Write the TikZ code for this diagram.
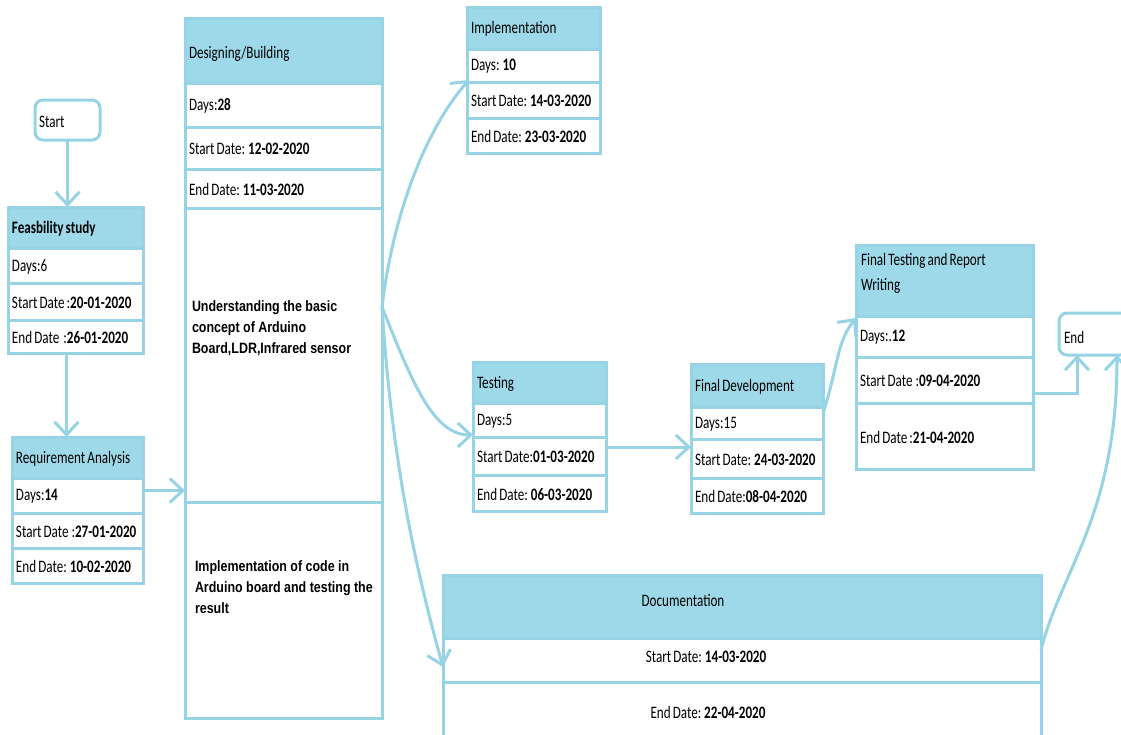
\documentclass[tikz,border=0pt]{standalone}
\usepackage{fontspec}
\setmainfont{Carlito}[FakeStretch=0.75,WordSpace=0.7]
\newfontfamily\arialf{Liberation Sans}[FakeStretch=0.83]
\usetikzlibrary{arrows.meta,calc}
\definecolor{lb}{RGB}{150,211,229}
\definecolor{hb}{RGB}{158,217,233}
\tikzset{
  cel/.style={draw=lb, line width=3pt, fill=white, anchor=north west,
    inner sep=0pt, outer sep=0pt},
  hdr/.style={fill=hb},
  term/.style={draw=lb, line width=3pt, fill=white, anchor=north west, rounded corners=8pt,
    inner sep=0pt, outer sep=0pt},
  txt/.style={inner sep=0pt, outer sep=0pt, align=left, font=\fontsize{17.5}{21}\selectfont},
  body/.style={inner sep=0pt, outer sep=0pt, anchor=north west, align=left,
    font=\arialf\bfseries\fontsize{15}{21}\selectfont},
  conn/.style={draw=lb, line width=3pt, -{Straight Barb[length=13pt,width=24pt,line width=3pt]}},
}
% name, x, y, w, h, style, text
\newcommand\cel[7]{\node[cel,#6,minimum width=#4pt,minimum height=#5pt] (#1) at (#2,#3) {};
  \node[txt,anchor=west] (#1t) at ($(#1.west)+(4,1)$) {#7};}
\begin{document}
\begin{tikzpicture}[x=1pt,y=-1pt]
\useasboundingbox[fill=white] (0,0) rectangle (1121,734);

% Start / End
\node[term, minimum width=65pt, minimum height=40pt] (start) at (35,100) {};
\node[txt, anchor=west] (startt) at ($(start.west)+(4,2)$) {Start};
\node[term, minimum width=69pt, minimum height=42pt] (end) at (1059,313) {};
\node[txt, anchor=west] (endt) at ($(end.west)+(5,3)$) {End};

% Feasibility
\cel{feasH}{8}{207}{135}{41}{hdr}{\textbf{Feasbility study}}
\cel{feasD}{8}{248}{135}{35}{}{Days:6}
\cel{feasS}{8}{283}{135}{37}{}{Start Date :\textbf{20-01-2020}}
\cel{feasE}{8}{320}{135}{33}{}{End Date \ :\textbf{26-01-2020}}

% Requirement
\cel{reqH}{12}{437}{131}{41}{hdr}{Requirement Analysis}
\cel{reqD}{12}{478}{131}{35}{}{Days:\textbf{14}}
\cel{reqS}{12}{513}{131}{35}{}{Start Date\,:\textbf{27-01-2020}}
\cel{reqE}{12}{548}{131}{35}{}{End Date: \textbf{10-02-2020}}

% Designing
\node[cel,hdr,minimum width=197pt,minimum height=65pt] (desH) at (185,18) {};
\node[txt,anchor=west] (desHt) at ($(desH.west)+(4,3)$) {Designing/Building};
\cel{desD}{185}{83}{197}{44}{}{Days:\textbf{28}}
\cel{desS}{185}{127}{197}{42}{}{Start Date: \textbf{12-02-2020}}
\cel{desE}{185}{169}{197}{39}{}{End Date: \textbf{11-03-2020}}
\node[cel, minimum width=197pt, minimum height=294pt] (desU) at (185,208) {};
\node[cel, minimum width=197pt, minimum height=216pt] (desI) at (185,502) {};
\node[body] (desUt) at ($(desU.north west)+(7,93)$) {Understanding the basic\\concept of Arduino\\Board,LDR,Infrared sensor};
\node[body] (desIt) at ($(desI.north west)+(10,59)$) {Implementation of code in\\Arduino board and testing the\\result};

% Implementation
\cel{impH}{467}{7}{133}{42}{hdr}{Implementation}
\cel{impD}{467}{49}{133}{33}{}{Days: \textbf{10}}
\cel{impS}{467}{82}{133}{36}{}{Start Date:\,\textbf{14-03-2020}}
\cel{impE}{467}{118}{133}{35}{}{End Date: \textbf{23-03-2020}}

% Testing
\cel{tesH}{473}{362}{133}{41}{hdr}{Testing}
\cel{tesD}{473}{403}{133}{34}{}{Days:5}
\cel{tesS}{473}{437}{133}{38}{}{Start Date:\textbf{01-03-2020}}
\cel{tesE}{473}{475}{133}{36}{}{End Date: \textbf{06-03-2020}}

% Final Development
\cel{fdH}{691}{364}{132}{43}{hdr}{Final Development}
\cel{fdD}{691}{407}{132}{32}{}{Days:15}
\cel{fdS}{691}{439}{132}{39}{}{Start Date: \textbf{24-03-2020}}
\cel{fdE}{691}{478}{132}{35}{}{End Date:\textbf{08-04-2020}}

% Final Testing
\node[cel,hdr,minimum width=177pt,minimum height=71pt] (ftH) at (856,245) {};
\node[txt,anchor=north west,font=\fontsize{17.5}{25}\selectfont] (ftHt) at ($(ftH.north west)+(5,8)$) {Final Testing and Report\\Writing};
\cel{ftD}{856}{316}{177}{41}{}{Days:.\textbf{12}}
\cel{ftS}{856}{357}{177}{46}{}{Start Date\,:\textbf{09-04-2020}}
\cel{ftE}{856}{403}{177}{66}{}{End Date :\textbf{21-04-2020}}

% Documentation
\node[cel,hdr,minimum width=598pt,minimum height=63pt] (docH) at (443,575) {};
\node[cel,minimum width=598pt,minimum height=44pt] (docS) at (443,638) {};
\node[cel,minimum width=598pt,minimum height=63pt] (docE) at (443,682) {};
\node[txt] (docHt) at ($(docH.center)+(-59,-6)$) {Documentation};
\node[txt] (docSt) at ($(docS.center)+(-36,-3)$) {Start Date: \textbf{14-03-2020}};
\node[txt] (docEt) at ($(docE.center)+(-34,-1)$) {End Date:\,\textbf{22-04-2020}};

% connectors
\coordinate (fork) at ($(desU.east)+(0,-48)$);
\coordinate (c1) at ($(feasE.south)+(-9,0)$);
\coordinate (c2) at ($(reqD.east)+(0,-5)$);
\coordinate (c3) at ($(tesD.south east)+(0,10)$);
\coordinate (c4) at ($(fdD.east)+(0,-10)$);
\coordinate (c5) at ($(ftS.east)+(0,13)$);
\coordinate (c6) at ($(docS.north east)+(0,12)$);
\coordinate (e1) at ($(end.south west)+(18,0)$);
\coordinate (e2) at ($(end.south west)+(58,0)$);
\coordinate (i1) at ($(impD.south west)+(2,-2)$);
\coordinate (t1) at ($(tesD.south west)+(0,-2)$);
\coordinate (d1) at ($(docS.west)+(0,7)$);
\coordinate (f1) at ($(ftD.north west)+(0,2)$);
\draw[conn] (start.south) -- (start.south |- feasH.north);
\draw[conn] (c1) -- (c1 |- reqH.north);
\draw[conn] (c2) -- (c2 -| desU.west);
\draw[conn] (fork) .. controls +(12,-100) and +(-40,45) .. (i1);
\draw[conn] (fork) .. controls +(30,75) and +(-40,0) .. (t1);
\draw[conn] (fork) .. controls +(10,160) and +(-25,-90) .. (d1);
\draw[conn] (c3) -- (c3 -| fdD.west);
\draw[conn] (c4) .. controls +(15,-45) and +(-20,25) .. (f1);
\draw[conn] (c5) -| (e1);
\draw[conn] (c6) .. controls +(20,-80) and +(0,160) .. (e2);
\end{tikzpicture}
\end{document}
